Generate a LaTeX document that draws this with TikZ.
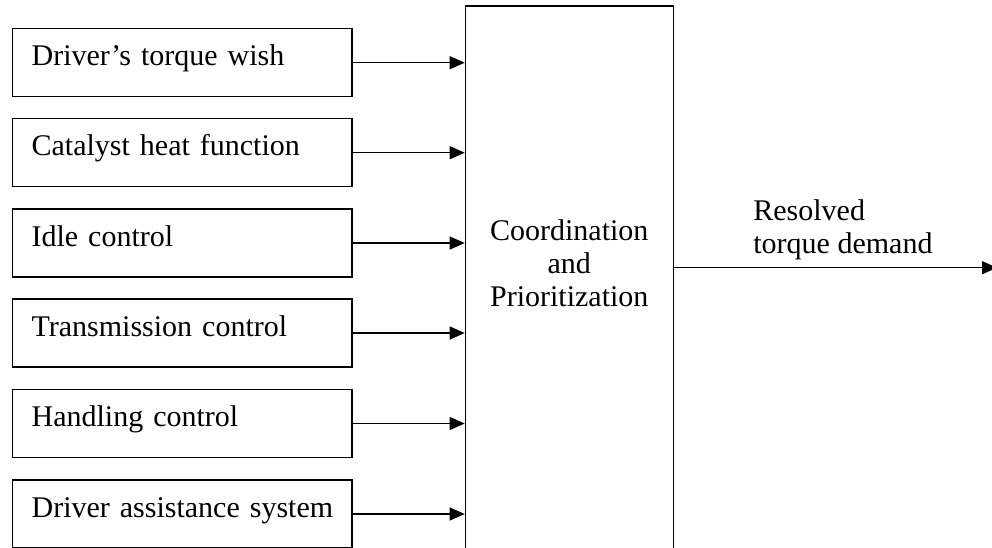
\documentclass[tikz,border=0pt]{standalone}
\usepackage{fontspec}
\setmainfont{Liberation Serif}
\usepackage{tikz}
\usetikzlibrary{arrows.meta,positioning,calc}

\begin{document}
\begin{tikzpicture}[
  x=0.5pt,y=-0.5pt,
  font=\fontsize{15}{16.5}\selectfont,
  b/.style={draw,line width=0.6pt,align=left,inner xsep=0pt,text width=169.7pt,
            execute at begin node={\hspace*{9.5pt}},
            minimum height=34pt,text height=0.75em,text depth=0.45em},
  h/.style={draw,line width=0.6pt,minimum width=104pt,minimum height=277pt},
  a/.style={-{Triangle[length=7.5pt,width=6.5pt]},line width=0.6pt},
  n/.style={inner sep=0pt}]
\useasboundingbox (0,0) rectangle (992,547);
\node[h] (prio)  at (569.3,283)   {};
\node[b] (drv)   at (182.3,62.7)  {Driver’s torque wish};
\node[b] (cat)   at (182.3,152.7) {Catalyst heat function};
\node[b] (idle)  at (182.3,243)   {Idle control};
\node[b] (trans) at (182.3,333)   {Transmission control};
\node[b] (hand)  at (182.3,423.5) {Handling control};
\node[b] (das)   at (182.3,514)   {Driver assistance system};
\node[n,align=center] (coord) at (569.3,263.4) {Coordination\\and\\Prioritization};
\node[n,align=left,anchor=west] (res) at (753,229.8) {Resolved\\torque demand};
\coordinate (out) at (997,267.7);
\draw[a] (drv.east)--(drv.east-|prio.west); \draw[a] (cat.east)--(cat.east-|prio.west);
\draw[a] (idle.east)--(idle.east-|prio.west); \draw[a] (trans.east)--(trans.east-|prio.west);
\draw[a] (hand.east)--(hand.east-|prio.west); \draw[a] (das.east)--(das.east-|prio.west);
\draw[a] (prio.east|-out)--(out);
\end{tikzpicture}
\end{document}
